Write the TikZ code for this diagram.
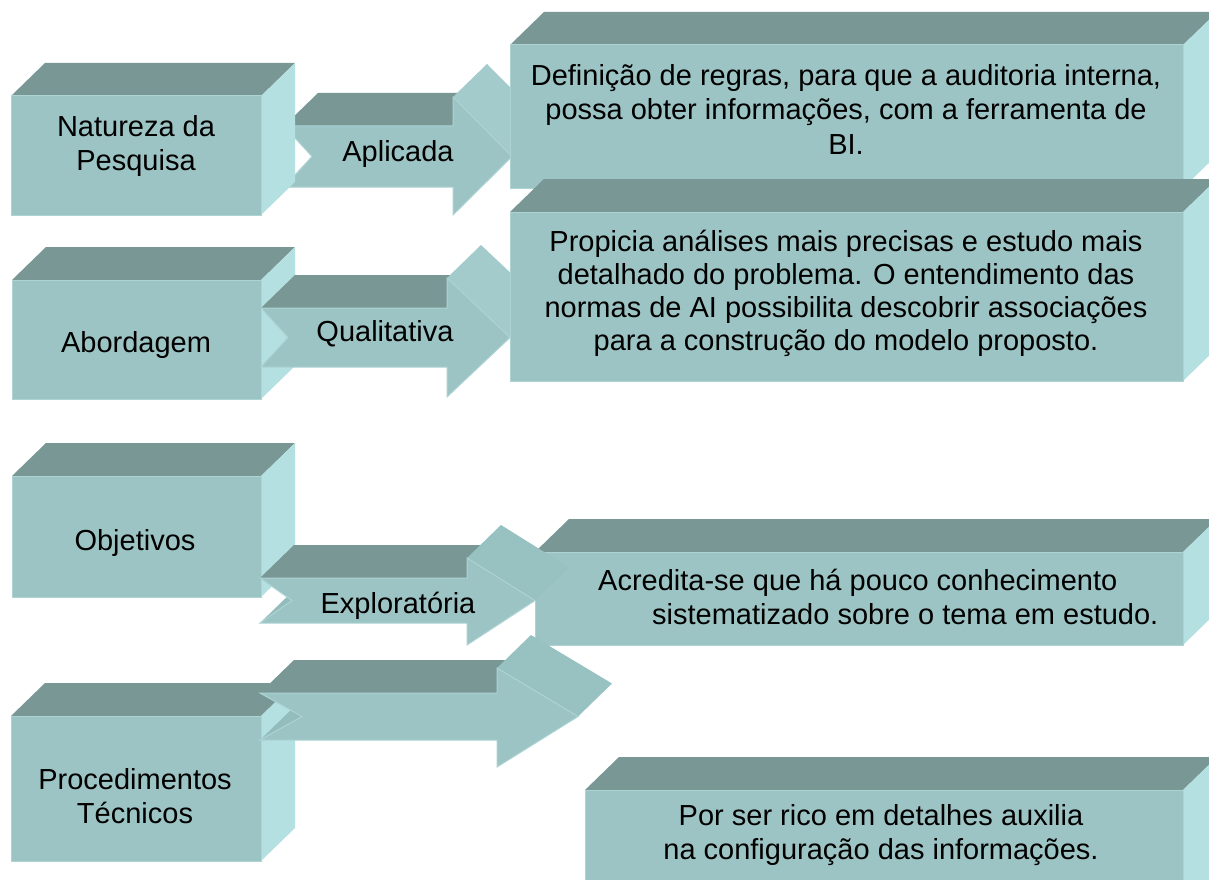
\documentclass[tikz,border=0pt]{standalone}
\usepackage{fontspec}
\setmainfont{Liberation Sans}
\definecolor{frontc}{HTML}{9DC4C4}
\definecolor{topc}{HTML}{789795}
\definecolor{sidec}{HTML}{B4E0E1}
\definecolor{headA}{HTML}{A3CBCB}
\definecolor{headB}{HTML}{98C1C1}
\definecolor{notchc}{HTML}{93BCBC}
\definecolor{edgec}{HTML}{ADD3D3}
\tikzset{
  lbl/.style={font=\fontsize{29}{34.5}\selectfont, align=center, inner sep=0pt, text=black},
  facefront/.style={fill=frontc, draw=edgec, line width=1pt, line join=miter},
}
\newcommand\threedbox[4]{% x1 y1 x2 y2 (front face, y downwards)
  \fill[topc] (#1,#2) -- (#1+34,#2-33) -- (#3+34,#2-33) -- (#3,#2) -- cycle;
  \fill[sidec] (#3,#2) -- (#3+34,#2-33) -- (#3+34,#4-33) -- (#3,#4) -- cycle;
  \filldraw[facefront] (#1,#2) rectangle (#3,#4);
}
\newcommand\threedarrow[9]{% tailx shafttop shaftbottom shoulderx headtop headbottom tipx notch headcolour
  \pgfmathsetmacro\arrmidy{(#2+#3)/2}
  \fill[notchc] (#1+#8,\arrmidy) -- (#1,#3) -- (#1+34,#3-33) -- (#1+#8+34,\arrmidy-33) -- cycle;
  \fill[topc] (#1,#2) -- (#1+34,#2-33) -- (#4+34,#2-33) -- (#4,#2) -- cycle;
  \fill[#9] (#4,#5) -- (#4+34,#5-33) -- (#7+34,\arrmidy-33) -- (#7,\arrmidy) -- cycle;
  \filldraw[facefront] (#1,#2) -- (#4,#2) -- (#4,#5) -- (#7,\arrmidy) -- (#4,#6) -- (#4,#3) -- (#1,#3) -- (#1+#8,\arrmidy) -- cycle;
}
\begin{document}
\begin{tikzpicture}[x=1pt,y=-1pt]
\useasboundingbox (0,0) rectangle (1209,880);
\clip (0,0) rectangle (1209,880);
\fill[white] (0,0) rectangle (1209,880);
% row 1
\threedarrow{284}{126}{187}{453}{97}{215}{512}{28}{headA}
\threedbox{11}{96}{261}{215}
% row 2
\threedbox{12}{280}{261}{399}
\threedarrow{261}{308}{367}{447}{278}{397}{510}{27}{headA}
% right boxes, rows 1-2
\threedbox{510}{45}{1183}{188}
\threedbox{510}{212}{1183}{381}
% row 3
\threedbox{12}{476}{261}{597}
\threedbox{535}{552}{1183}{645}
\threedarrow{260}{578}{623}{467}{558}{645}{535}{32}{headB}
% row 4
\threedbox{11}{716}{261}{861}
\threedarrow{260}{693}{740}{497}{668}{767}{578}{42}{headB}
\threedbox{585}{790}{1183}{910}
% texts
\node[lbl] (tnat) at (136,146) {Natureza da\\Pesquisa};
\node[lbl, anchor=base] (tapl) at (398,161) {Aplicada};
\node[lbl, anchor=base] (tabo) at (136,352) {Abordagem};
\node[lbl, anchor=base] (tqua) at (385,341) {Qualitativa};
\node[lbl, anchor=base] (tobj) at (135,550) {Objetivos};
\node[lbl, anchor=base] (texp) at (398,613) {Exploratória};
\node[lbl] (tpro) at (135,796) {Procedimentos\\Técnicos};
\node[lbl] (tdef) at (846,109) {Definição de regras, para que a auditoria interna,\\possa obter informações, com a ferramenta de\\BI.};
\node[lbl, font=\fontsize{29}{33}\selectfont] (tpropi) at (846,293) {Propicia análises mais precisas e estudo mais\\detalhado do problema. O entendimento das\\normas de AI possibilita descobrir associações\\para a construção do modelo proposto.};
\node[lbl, align=left, anchor=west] (tacr) at (598,597) {Acredita-se que há pouco conhecimento\\\hspace*{54pt}sistematizado sobre o tema em estudo.};
\node[lbl] (tpor) at (881,835) {Por ser rico em detalhes auxilia\\na configuração das informações.};
\end{tikzpicture}
\end{document}
